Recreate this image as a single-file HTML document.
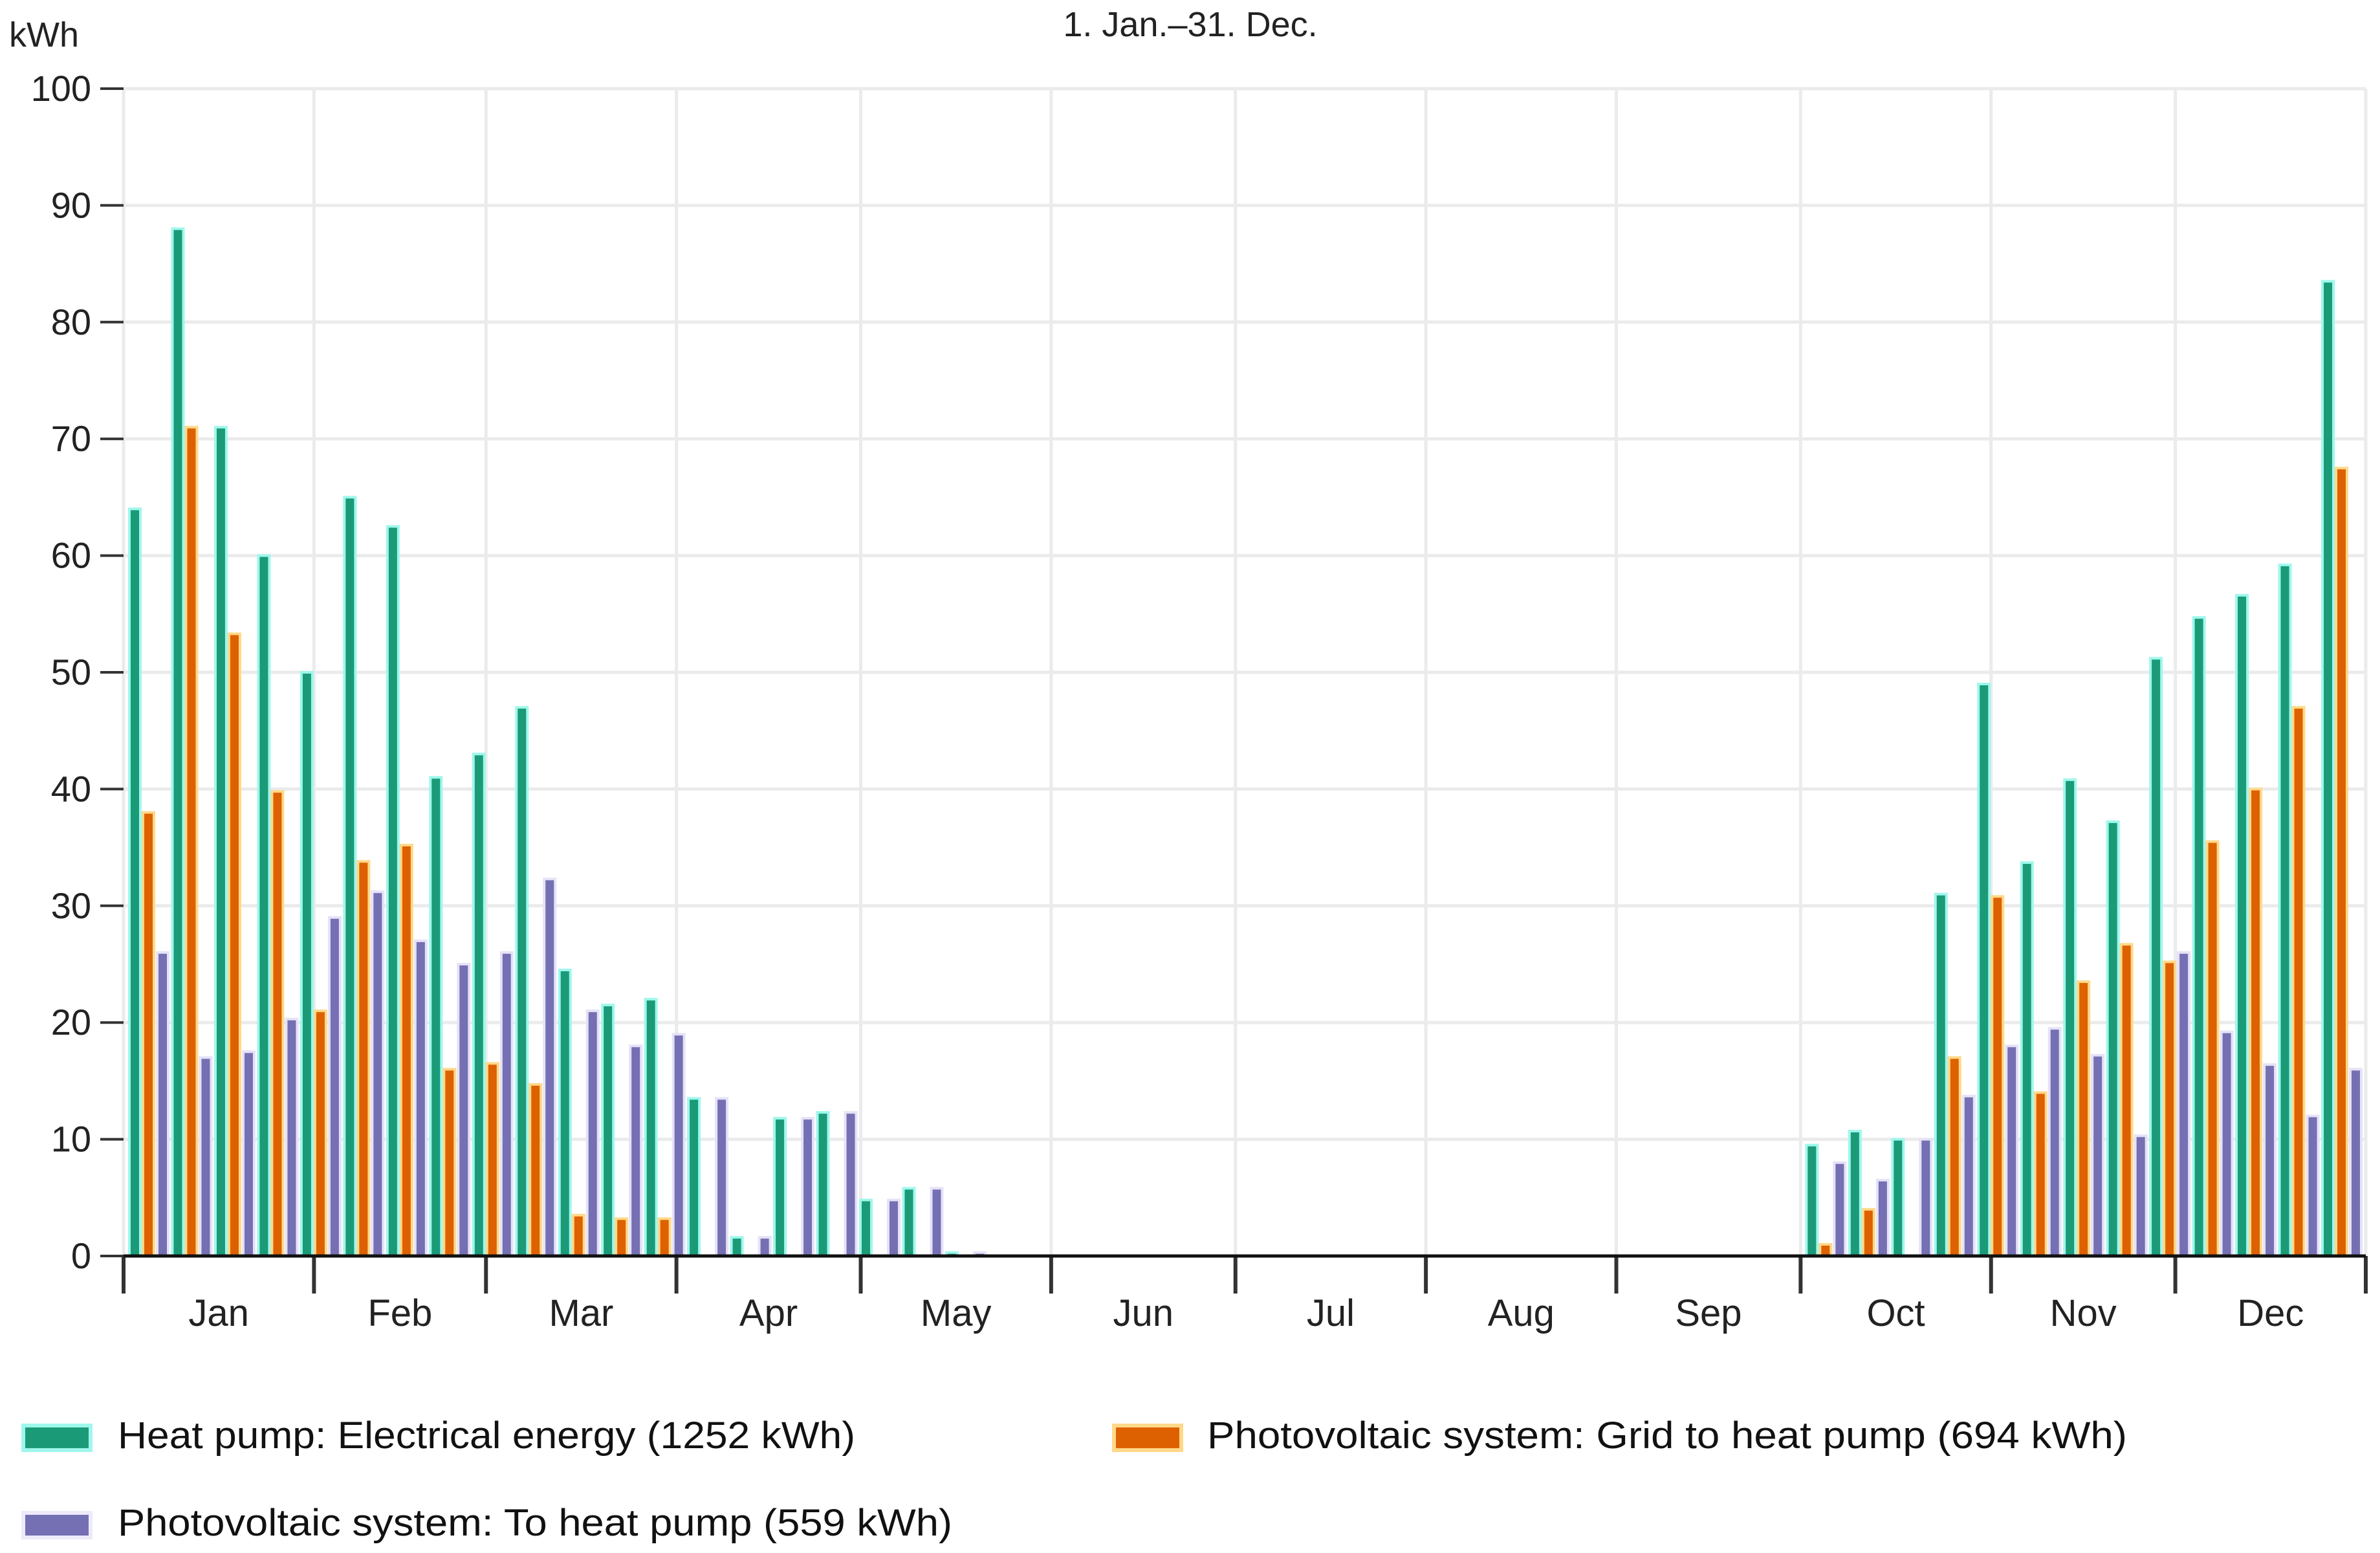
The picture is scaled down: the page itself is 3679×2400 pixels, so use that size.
<!DOCTYPE html>
<html><head><meta charset="utf-8"><style>
html,body{margin:0;padding:0;background:#fff;}
svg{display:block;font-family:"Liberation Sans",sans-serif;}
</style></head><body>
<svg id="chart" width="3679" height="2400" viewBox="0 0 3679 2400" xmlns="http://www.w3.org/2000/svg">
<text x="1840" y="56" font-size="54" text-anchor="middle" fill="#222">1. Jan.–31. Dec.</text>
<text x="14" y="72" font-size="54" fill="#222">kWh</text>
<g id="grid"></g>
<g id="bars"></g>
<g id="axes"></g>
<g>
 <g>
  <rect x="36" y="2203" width="104" height="38" fill="#1b9a77" stroke="#9ff7ec" stroke-width="6"/>
  <text x="182" y="2238" font-size="58" fill="#111" textLength="1140" lengthAdjust="spacingAndGlyphs">Heat pump: Electrical energy (1252 kWh)</text>
 </g>
 <g>
  <rect x="1722" y="2203" width="104" height="38" fill="#dd6100" stroke="#ffd98a" stroke-width="6"/>
  <text x="1866" y="2238" font-size="58" fill="#111" textLength="1422" lengthAdjust="spacingAndGlyphs">Photovoltaic system: Grid to heat pump (694 kWh)</text>
 </g>
 <g>
  <rect x="36" y="2338" width="104" height="38" fill="#7570b3" stroke="#eeeafa" stroke-width="6"/>
  <text x="182" y="2373" font-size="58" fill="#111" textLength="1290" lengthAdjust="spacingAndGlyphs">Photovoltaic system: To heat pump (559 kWh)</text>
 </g>
</g>
</svg>
<script>
const months = ["Jan","Feb","Mar","Apr","May","Jun","Jul","Aug","Sep","Oct","Nov","Dec"];
const monthDays = [31,28,31,30,31,30,31,31,30,31,30,31];
const yTicks = [0,10,20,30,40,50,60,70,80,90,100];
const heatPump = [64,88,71,60,50,65,62.5,41,43,47,24.5,21.5,22,13.5,1.6,11.8,12.3,4.8,5.8,0.3,0,0,0,0,0,0,0,0,0,0,0,0,0,0,0,0,0,0,0,9.5,10.7,10,31,49,33.7,40.8,37.2,51.2,54.7,56.6,59.2,83.5];
const gridToHp = [38,71,53.3,39.8,21,33.8,35.2,16,16.5,14.7,3.5,3.2,3.2,0,0,0,0,0,0,0,0,0,0,0,0,0,0,0,0,0,0,0,0,0,0,0,0,0,0,1,4,0,17,30.8,14,23.5,26.7,25.2,35.5,40,47,67.5];
const pvToHp = [26,17,17.5,20.3,29,31.2,27,25,26,32.3,21,18,19,13.5,1.6,11.8,12.3,4.8,5.8,0.3,0,0,0,0,0,0,0,0,0,0,0,0,0,0,0,0,0,0,0,8,6.5,10,13.7,18,19.5,17.2,10.3,26,19.2,16.4,12,16];

const NS="http://www.w3.org/2000/svg";
const X0=191, X1=3657, Y0=1941, YT=137;
const dayW=(X1-X0)/365;
const xDay=d=>X0+d*dayW;
const yVal=v=>Y0-(v/100)*(Y0-YT);
function mk(tag,attrs,parent){const e=document.createElementNS(NS,tag);for(const k in attrs)e.setAttribute(k,attrs[k]);parent.appendChild(e);return e;}
const grid=document.getElementById('grid'),bars=document.getElementById('bars'),axes=document.getElementById('axes');
yTicks.forEach(t=>{
  if(t>0){const l=mk('line',{x1:X0,x2:X1,y1:yVal(t),y2:yVal(t),stroke:'#ebebeb','stroke-width':5},grid);
  
  }
  const tk=mk('line',{x1:X0-36,x2:X0,y1:yVal(t),y2:yVal(t),stroke:'#333','stroke-width':4},axes);
  
  
  const tx=mk('text',{x:X0-50,y:yVal(t)+19,'font-size':56,'text-anchor':'end',fill:'#222'},axes);
  tx.textContent=t;
  
  
});
let cum=0;const bounds=[0];
monthDays.forEach(d=>{cum+=d;bounds.push(cum);});
bounds.forEach(b=>{
  const l=mk('line',{x1:xDay(b),x2:xDay(b),y1:YT,y2:Y0,stroke:'#ebebeb','stroke-width':5},grid);
  
  
  const tk=mk('line',{x1:xDay(b),x2:xDay(b),y1:Y0,y2:Y0+58,stroke:'#333','stroke-width':6},axes);
  
  
});
months.forEach((m,i)=>{
  const tx=mk('text',{x:(xDay(bounds[i])+xDay(bounds[i+1]))/2,y:Y0+108,'font-size':58,'text-anchor':'middle',fill:'#222'},axes);
  tx.textContent=m;
  
  
});
const ax=mk('line',{x1:X0,x2:X1,y1:Y0,y2:Y0,stroke:'#111','stroke-width':5},axes);


const series=[[heatPump,'#1b9a77','#9ff7ec',9],[gridToHp,'#dd6100','#ffd98a',30],[pvToHp,'#7570b3','#e6e2f7',52]];
const bw=17;
series.forEach(([vals,fill,edge,off],si)=>{
  vals.forEach((v,w)=>{
    if(v<=0)return;
    const x=xDay(w*7)+off, y=yVal(v);
    const r=mk('rect',{x:x,y:y,width:bw,height:Y0-y,fill:fill,stroke:edge,'stroke-width':4},bars);
    
    
  });
});
</script>
</body></html>
